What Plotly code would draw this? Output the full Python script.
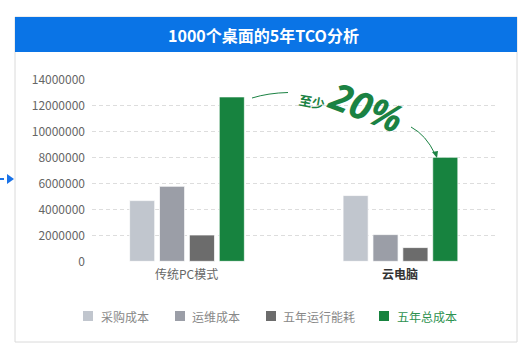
import plotly.graph_objects as go

# ---- data ----
categories = ["传统PC模式", "云电脑"]
series_names = ["采购成本", "运维成本", "五年运行能耗", "五年总成本"]
purchase = [4680000, 5070000]
maintenance = [5780000, 2060000]
energy = [2030000, 1060000]
total = [12670000, 8020000]
series_values = [purchase, maintenance, energy, total]
y_ticks = [0, 2000000, 4000000, 6000000, 8000000, 10000000, 12000000, 14000000]
title_text = "1000个桌面的5年TCO分析"
callout_small = "至少"
callout_big = "20%"

colors = ["#C1C6CE", "#9B9EA7", "#6C6C6C", "#17833F"]

# ---- layout geometry (pixels) ----
WID, HEI = 531, 354
L, R, T, B = 92, 33, 79, 92
PW, PH = WID - L - R, HEI - T - B


def px(x):
    return (x - L) / PW


def py(y):
    return (HEI - B - y) / PH


FONT = "Microsoft YaHei, Noto Sans CJK SC, sans-serif"

fig = go.Figure()
for name, vals, col in zip(series_names, series_values, colors):
    fig.add_trace(go.Bar(
        x=categories, y=vals, name=name,
        marker=dict(color=col, line=dict(color="rgba(255,255,255,0.7)", width=1)),
        showlegend=False,
    ))

shapes = []
annotations = []


def note(x, y, text, size, color, xanchor="center", textangle=0, family=FONT, xref="paper"):
    annotations.append(dict(xref=xref, yref="paper", x=x, y=y, text=text, showarrow=False,
                            xanchor=xanchor, yanchor="middle", textangle=textangle,
                            font=dict(family=family, size=size, color=color)))


# card + header
shapes.append(dict(type="rect", xref="paper", yref="paper",
                   x0=px(15), x1=px(517), y0=py(342), y1=py(17),
                   line=dict(color="#DADADA", width=1), fillcolor="white", layer="below"))
shapes.append(dict(type="rect", xref="paper", yref="paper",
                   x0=px(15), x1=px(517), y0=py(52), y1=py(17),
                   line=dict(width=0), fillcolor="#0A74E6", layer="below"))
note(px(263), py(35), "<b>" + title_text + "</b>", 16, "white")

# left blue marker
shapes.append(dict(type="line", xref="paper", yref="paper",
                   x0=px(0), x1=px(4), y0=py(179), y1=py(179),
                   line=dict(color="#1A73E8", width=2)))
shapes.append(dict(type="path", xref="paper", yref="paper",
                   path=f"M {px(7)},{py(174)} L {px(14)},{py(179)} L {px(7)},{py(184)} Z",
                   fillcolor="#1A73E8", line=dict(width=0)))

# x category labels
note(categories[0], py(273), categories[0], 12, "#666666", xref="x")
note(categories[1], py(273), "<b>" + categories[1] + "</b>", 12, "#333333", xref="x")

# callout curves
green = "#1B8243"
shapes.append(dict(type="path", xref="paper", yref="paper",
                   path=f"M {px(252)},{py(98)} Q {px(268)},{py(93)} {px(288)},{py(92.5)}",
                   line=dict(color=green, width=1)))
shapes.append(dict(type="path", xref="paper", yref="paper",
                   path=f"M {px(411)},{py(127)} Q {px(426)},{py(135)} {px(435)},{py(154)}",
                   line=dict(color=green, width=1)))
shapes.append(dict(type="path", xref="paper", yref="paper",
                   path=f"M {px(432)},{py(152)} L {px(437)},{py(158)} L {px(438)},{py(151)} Z",
                   fillcolor=green, line=dict(width=0)))
note(px(312), py(101), "<b>" + callout_small + "</b>", 13, green, textangle=10)
note(px(366), py(106), "<b><i>" + callout_big + "</i></b>", 38, green, textangle=21,
     family="Open Sans, sans-serif")

# legend (manual)
leg_sq_x = [83, 175, 266, 379]
leg_txt_x = [99, 190, 281, 395]
for i, name in enumerate(series_names):
    shapes.append(dict(type="rect", xref="paper", yref="paper",
                       x0=px(leg_sq_x[i]), x1=px(leg_sq_x[i] + 10),
                       y0=py(321), y1=py(311),
                       fillcolor=colors[i], line=dict(width=0)))
    note(px(leg_txt_x[i]), py(316), name, 12,
         "#2E9150" if i == 3 else "#888888", xanchor="left")

fig.update_layout(
    width=WID, height=HEI,
    margin=dict(l=L, r=R, t=T, b=B),
    paper_bgcolor="white", plot_bgcolor="rgba(0,0,0,0)",
    barmode="group", bargap=0.44, bargroupgap=0.16,
    shapes=shapes, annotations=annotations,
    xaxis=dict(range=[-0.445, 1.457], showticklabels=False, showgrid=False,
               zeroline=False, showline=False),
    yaxis=dict(range=[-50000, 14050000], tickvals=y_ticks,
               ticktext=[str(v) for v in y_ticks],
               showgrid=True, gridcolor="#DDDDDD", griddash="4px,3px", gridwidth=1,
               zeroline=False, showline=False, ticks="", ticklabelstandoff=6,
               tickfont=dict(family=FONT, size=12, color="#666666")),
    font=dict(family=FONT),
)

fig.write_html("out.html")
